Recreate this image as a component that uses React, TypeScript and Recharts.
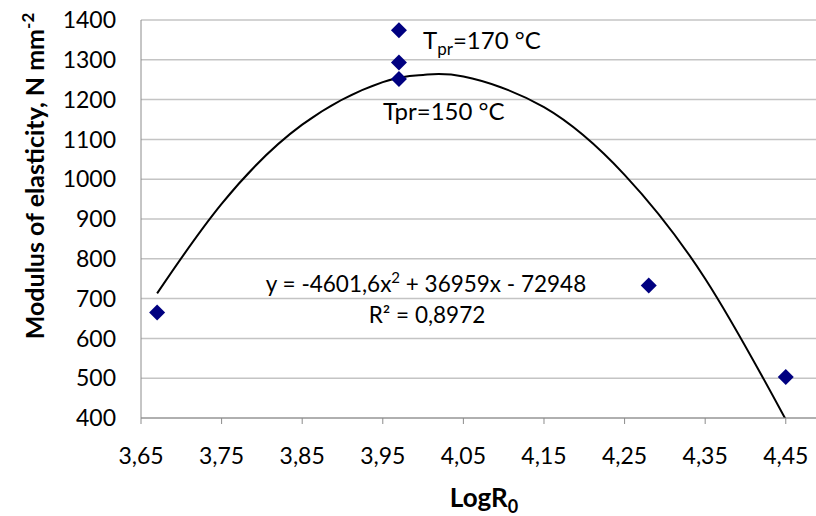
import { ComposedChart, Scatter, Line, XAxis, YAxis, CartesianGrid } from 'recharts'

const logR0 = [3.67, 3.97, 3.97, 3.97, 4.28, 4.45]
const modulus = [665, 1374, 1293, 1252, 733, 503]

// polynomial trendline
const trendX = [3.67, 3.75, 3.85, 3.95, 4.0, 4.05, 4.15, 4.25, 4.35, 4.45]
const trendY = [713, 938, 1137, 1244, 1262, 1258, 1181, 1011, 750, 396]

const xTicks = [3.65, 3.75, 3.85, 3.95, 4.05, 4.15, 4.25, 4.35, 4.45]
const yTicks = [400, 500, 600, 700, 800, 900, 1000, 1100, 1200, 1300, 1400]

const points = logR0.map((x, i) => ({ x, y: modulus[i] }))
const trend = trendX.map((x, i) => ({ x, y: trendY[i] }))

const FONT = 'Lato, "Open Sans", sans-serif'

const Diamond = (props: any) => {
  const { cx, cy } = props
  const r = 8
  return (
    <polygon
      points={`${cx},${cy - r} ${cx + r},${cy} ${cx},${cy + r} ${cx - r},${cy}`}
      fill="#000080"
    />
  )
}

export default function App() {
  return (
    <div style={{ position: 'absolute', left: 0, top: 0, width: 816, height: 516, background: '#fff', fontFamily: FONT }}>
      <ComposedChart width={816} height={516} margin={{ top: 20, right: 0, left: 0, bottom: 0 }}>
        <CartesianGrid vertical={false} stroke="#c4c4c4" strokeWidth={1.5} />
        <XAxis
          type="number"
          dataKey="x"
          domain={[3.65, 4.4875]}
          ticks={xTicks}
          interval={0}
          height={98}
          tickSize={6}
          tickMargin={24}
          stroke="#8c8c8c"
          tick={{ fontSize: 23, fill: '#000', fontFamily: FONT }}
          tickFormatter={(v: number) => v.toFixed(2).replace('.', ',')}
          allowDataOverflow
        />
        <YAxis
          type="number"
          dataKey="y"
          domain={[400, 1400]}
          ticks={yTicks}
          interval={0}
          width={141}
          tickLine={false}
          tickSize={0}
          tickMargin={25}
          stroke="#8c8c8c"
          tick={{ fontSize: 23, fill: '#000', fontFamily: FONT }}
          allowDataOverflow
        />
        <Line
          data={trend}
          dataKey="y"
          type="natural"
          stroke="#000"
          strokeWidth={2}
          dot={false}
          activeDot={false}
          isAnimationActive={false}
        />
        <Scatter data={points} dataKey="y" shape={Diamond} isAnimationActive={false} />
      </ComposedChart>
      <svg
        width={816}
        height={516}
        style={{ position: 'absolute', left: 0, top: 0, pointerEvents: 'none' }}
        fontFamily={FONT}
      >
        <text x={423} y={49} fontSize={24} fill="#000">
          T<tspan fontSize={17} dy={6}>pr</tspan>
          <tspan dy={-6}>=170 °C</tspan>
        </text>
        <text x={383} y={120} fontSize={24} fill="#000">
          Tpr=150 °C
        </text>
        <text x={426} y={292} fontSize={22.5} fill="#000" textAnchor="middle">
          y = -4601,6x<tspan fontSize={15} dy={-9}>2</tspan>
          <tspan dy={9}> + 36959x - 72948</tspan>
        </text>
        <text x={427} y={323} fontSize={22.5} fill="#000" textAnchor="middle">
          R² = 0,8972
        </text>
        <text
          transform="translate(44,176) rotate(-90)"
          fontSize={25}
          fontWeight="bold"
          fill="#000"
          textAnchor="middle"
        >
          Modulus of elasticity, N mm<tspan fontSize={17} dy={-10}>-2</tspan>
        </text>
        <text x={484} y={507} fontSize={26} fontWeight="bold" fill="#000" textAnchor="middle">
          LogR<tspan fontSize={18} dy={6}>0</tspan>
        </text>
      </svg>
    </div>
  )
}
